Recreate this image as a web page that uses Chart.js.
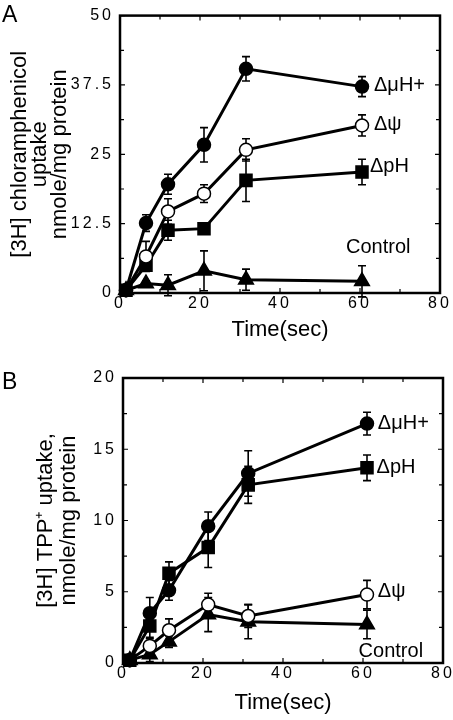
<!DOCTYPE html>
<html>
<head>
<meta charset="utf-8">
<script src="https://cdn.jsdelivr.net/npm/chart.js@4/dist/chart.umd.min.js"></script>
<style>
  body { margin: 0; background: #fff; }
  #wrap { position: relative; width: 453px; height: 720px; }
  canvas { position: absolute; left: 0; }
</style>
</head>
<body>
<div id="wrap">
  <canvas id="chartA" width="453" height="360" style="top:0"></canvas>
  <canvas id="chartB" width="453" height="360" style="top:360px"></canvas>
</div>
<script>
// ---- Panel A: [3H] chloramphenicol uptake ----
const timesA = [1.5, 6.5, 12, 21, 31.5, 60.5];
const muHA    = [0.5, 12.6, 19.6, 26.7, 40.4, 37.2];
const muHErrA = [0, 1.5, 1.8, 3.1, 2.2, 1.8];
const psiA    = [0.5, 6.6, 14.7, 17.9, 25.8, 30.2];
const psiErrA = [0, 2.7, 2.3, 1.6, 2.0, 1.9];
const pHA     = [0.5, 5.0, 11.3, 11.6, 20.3, 21.8];
const pHErrA  = [0, 0.8, 1.8, 0.5, 3.8, 2.3];
const ctrlA    = [0.5, 1.7, 1.4, 4.0, 2.4, 2.1];
const ctrlErrA = [0, 0.5, 1.9, 3.6, 1.9, 2.8];

// ---- Panel B: [3H] TPP+ uptake ----
const timesB = [1.7, 6.7, 11.5, 21.3, 31.3, 61];
const muHB    = [0.2, 3.5, 5.1, 9.6, 13.3, 16.8];
const muHErrB = [0, 1.1, 0.7, 1.0, 1.6, 0.8];
const pHB     = [0.2, 2.6, 6.3, 8.1, 12.5, 13.7];
const pHErrB  = [0, 0.8, 0.8, 1.4, 1.3, 0.9];
const psiB    = [0.2, 1.2, 2.3, 4.1, 3.3, 4.8];
const psiErrB = [0, 0.5, 0.8, 0.8, 0.8, 1.0];
const ctrlB    = [0.2, 0.6, 1.5, 3.4, 2.9, 2.7];
const ctrlErrB = [0, 0.5, 0.4, 1.2, 1.2, 1.0];

const FONT = '"Liberation Sans", Arial, Helvetica, sans-serif';

function makeSet(label, times, values, errs, shape, filled) {
    const radius = shape === 'circle' ? 6.5 : 8.5;
    return {
        label: label,
        data: times.map((t, i) => ({ x: t, y: values[i] })),
        errors: errs,
        borderColor: '#000',
        borderWidth: 3,
        tension: 0,
        fill: false,
        clip: false,
        pointStyle: shape,
        pointRadius: radius,
        pointBackgroundColor: filled ? '#000' : '#fff',
        pointBorderColor: '#000',
        pointBorderWidth: 1.5,
    };
}

// box with inward major + minor ticks on all four sides
const framePlugin = {
    id: 'frame',
    beforeDatasetsDraw(chart) {
        const { ctx, chartArea: a, scales } = chart;
        ctx.save();
        ctx.strokeStyle = '#000';
        ctx.lineWidth = 1.2;
        [{ s: scales.x, horiz: true }, { s: scales.y, horiz: false }].forEach(({ s, horiz }) => {
            const vals = s.ticks.map(t => t.value);
            const all = [];
            vals.forEach((v, i) => {
                all.push([v, 5]);
                if (i < vals.length - 1) all.push([(v + vals[i + 1]) / 2, 4]);
            });
            all.forEach(([v, len]) => {
                const p = s.getPixelForValue(v);
                ctx.beginPath();
                if (horiz) {
                    ctx.moveTo(p, a.bottom); ctx.lineTo(p, a.bottom - len);
                    ctx.moveTo(p, a.top); ctx.lineTo(p, a.top + len);
                } else {
                    ctx.moveTo(a.left, p); ctx.lineTo(a.left + len, p);
                    ctx.moveTo(a.right, p); ctx.lineTo(a.right - len, p);
                }
                ctx.stroke();
            });
        });
        ctx.lineWidth = 2.5;
        ctx.strokeRect(a.left, a.top, a.right - a.left, a.bottom - a.top);
        ctx.restore();
    }
};

// vertical error bars with caps, under the markers
const errorBarPlugin = {
    id: 'errorBars',
    beforeDatasetsDraw(chart) {
        const { ctx, scales: { x, y } } = chart;
        ctx.save();
        ctx.strokeStyle = '#000';
        ctx.lineWidth = 1.6;
        chart.data.datasets.forEach(ds => {
            ds.data.forEach((pt, i) => {
                const e = ds.errors[i];
                if (!e) return;
                const px = x.getPixelForValue(pt.x);
                const top = y.getPixelForValue(pt.y + e);
                const bot = y.getPixelForValue(pt.y - e);
                ctx.beginPath();
                ctx.moveTo(px, top); ctx.lineTo(px, bot);
                ctx.moveTo(px - 4, top); ctx.lineTo(px + 4, top);
                ctx.moveTo(px - 4, bot); ctx.lineTo(px + 4, bot);
                ctx.stroke();
            });
        });
        ctx.restore();
    }
};

// series names next to the curves, and the panel letter
const tagPlugin = {
    id: 'tags',
    afterDatasetsDraw(chart, args, opts) {
        const { ctx, scales: { x, y } } = chart;
        ctx.save();
        ctx.fillStyle = '#000';
        ctx.font = '20px ' + FONT;
        ctx.textBaseline = 'middle';
        ctx.textAlign = 'left';
        opts.tags.forEach(t => {
            ctx.fillText(t.text, x.getPixelForValue(t.x), y.getPixelForValue(t.y));
        });
        ctx.font = '23px ' + FONT;
        ctx.textBaseline = 'alphabetic';
        ctx.fillText(opts.letter, 2, opts.letterY);
        ctx.restore();
    }
};

// tick numbers in the original are widely tracked
const spacedTicksPlugin = {
    id: 'spacedTicks',
    beforeDraw(chart) {
        ['x', 'y'].forEach(id => {
            const s = chart.scales[id];
            if (s._spaced) return;
            const orig = s.drawLabels.bind(s);
            s.drawLabels = (area) => {
                chart.ctx.save();
                chart.ctx.letterSpacing = '3px';
                orig(area);
                chart.ctx.restore();
            };
            s._spaced = true;
        });
    }
};

function panelOptions(p) {
    const tickFont = { family: FONT, size: 16 };
    return {
        responsive: false,
        animation: false,
        layout: { padding: p.pad },
        plugins: {
            legend: { display: false },
            tooltip: { enabled: false },
            tags: { tags: p.tags, letter: p.letter, letterY: p.letterY },
        },
        scales: {
            x: {
                type: 'linear', min: 0, max: 80,
                grid: { display: false, drawTicks: false },
                border: { display: false },
                ticks: { stepSize: 20, color: '#000', font: tickFont, padding: p.xTickPad },
                title: {
                    display: true, text: 'Time(sec)', color: '#000',
                    font: { family: FONT, size: 22, lineHeight: 1.1 },
                    padding: { top: 0, bottom: p.xTitlePad }
                },
                afterFit: s => { s.height = p.xHeight; }
            },
            y: {
                type: 'linear', min: 0, max: p.yMax,
                grid: { display: false, drawTicks: false },
                border: { display: false },
                ticks: { stepSize: p.yStep, color: '#000', font: tickFont, padding: p.yTickPad },
                title: {
                    display: true, text: p.yTitle, color: '#000',
                    font: { family: FONT, size: 22, lineHeight: p.yTitleLH },
                    padding: { top: p.yTitlePad, bottom: 0 }
                },
                afterFit: s => { s.width = p.yWidth; }
            }
        }
    };
}

new Chart(document.getElementById('chartA'), {
    type: 'line',
    data: {
        datasets: [
            makeSet('ΔμH+', timesA, muHA, muHErrA, 'circle', true),
            makeSet('Δψ', timesA, psiA, psiErrA, 'circle', false),
            makeSet('ΔpH', timesA, pHA, pHErrA, 'rect', true),
            makeSet('Control', timesA, ctrlA, ctrlErrA, 'triangle', true),
        ]
    },
    options: panelOptions({
        pad: { top: 8, right: 13, bottom: 7, left: 0 },
        yMax: 50, yStep: 12.5,
        yTitle: ['[3H] chloramphenicol', 'uptake', 'nmole/mg protein'],
        yTitleLH: 0.9, yTitlePad: 10, yWidth: 120, yTickPad: 6,
        xHeight: 60, xTickPad: 1, xTitlePad: 11,
        letter: 'A', letterY: 22,
        tags: [
            { text: 'ΔμH+', x: 63.5, y: 37.4 },
            { text: 'Δψ', x: 63.5, y: 30.4 },
            { text: 'ΔpH', x: 62.5, y: 22.8 },
            { text: 'Control', x: 56.5, y: 8.2 },
        ]
    }),
    plugins: [spacedTicksPlugin, framePlugin, errorBarPlugin, tagPlugin]
});

new Chart(document.getElementById('chartB'), {
    type: 'line',
    data: {
        datasets: [
            makeSet('ΔμH+', timesB, muHB, muHErrB, 'circle', true),
            makeSet('ΔpH', timesB, pHB, pHErrB, 'rect', true),
            makeSet('Δψ', timesB, psiB, psiErrB, 'circle', false),
            makeSet('Control', timesB, ctrlB, ctrlErrB, 'triangle', true),
        ]
    },
    options: panelOptions({
        pad: { top: 18, right: 10, bottom: 5, left: 0 },
        yMax: 20, yStep: 5,
        yTitle: ['[3H] TPP⁺ uptake,', 'nmole/mg protein'],
        yTitleLH: 1.05, yTitlePad: 34, yWidth: 123, yTickPad: 6,
        xHeight: 52, xTickPad: 1, xTitlePad: 0,
        letter: 'B', letterY: 29,
        tags: [
            { text: 'ΔμH+', x: 63.7, y: 16.8 },
            { text: 'ΔpH', x: 63.4, y: 13.7 },
            { text: 'Δψ', x: 63.7, y: 5.0 },
            { text: 'Control', x: 58.9, y: 0.8 },
        ]
    }),
    plugins: [spacedTicksPlugin, framePlugin, errorBarPlugin, tagPlugin]
});
</script>
</body>
</html>
